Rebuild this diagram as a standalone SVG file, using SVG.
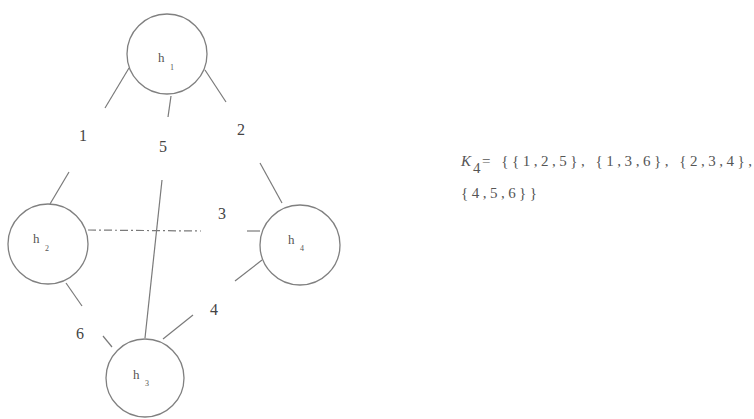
<svg xmlns="http://www.w3.org/2000/svg" width="754" height="419" viewBox="0 0 754 419">
<style>
.node{fill:none;stroke:#808080;stroke-width:1.3}
.edge{fill:none;stroke:#7a7a7a;stroke-width:1.2}
.dash{stroke-dasharray:8 3 2 3}
.lbl{font-family:"Liberation Serif","Times New Roman",serif;fill:#555}
.h{font-size:13px}
.sub{font-size:8px}
.num{font-size:16px;fill:#444}
.set{font-family:"Liberation Serif","Times New Roman",serif;font-size:15px;fill:#555}
</style>
<rect width="754" height="419" fill="#ffffff"/>
<g id="connectors">
<line class="edge" x1="129" y1="68" x2="105" y2="108"/>
<line class="edge" x1="69" y1="172" x2="50" y2="204"/>
<line class="edge" x1="171" y1="96" x2="168" y2="117"/>
<line class="edge" x1="162" y1="180" x2="145" y2="338"/>
<line class="edge" x1="205" y1="70" x2="226" y2="102"/>
<line class="edge" x1="260" y1="163" x2="282" y2="203"/>
<line class="edge dash" x1="88" y1="230" x2="201" y2="231"/>
<line class="edge" x1="247" y1="231" x2="260" y2="231"/>
<line class="edge" x1="262" y1="260" x2="235" y2="281"/>
<line class="edge" x1="193" y1="315" x2="163" y2="339"/>
<line class="edge" x1="66" y1="283" x2="82" y2="306"/>
<line class="edge" x1="103" y1="336" x2="112" y2="347"/>
<text class="lbl num" x="79" y="141">1</text>
<text class="lbl num" x="159" y="152">5</text>
<text class="lbl num" x="237" y="135">2</text>
<text class="lbl num" x="218" y="219">3</text>
<text class="lbl num" x="210" y="315">4</text>
<text class="lbl num" x="76" y="339">6</text>
</g>
<g id="h1">
<circle class="node" cx="167" cy="54" r="40"/>
<text class="lbl h" x="158" y="62">h</text>
<text class="lbl sub" x="170" y="70">1</text>
</g>
<g id="h2">
<circle class="node" cx="48" cy="244" r="40"/>
<text class="lbl h" x="33" y="243">h</text>
<text class="lbl sub" x="45" y="251">2</text>
</g>
<g id="h4">
<circle class="node" cx="300" cy="245" r="40"/>
<text class="lbl h" x="288" y="244">h</text>
<text class="lbl sub" x="300" y="251">4</text>
</g>
<g id="h3">
<circle class="node" cx="145" cy="378" r="39"/>
<text class="lbl h" x="133" y="379">h</text>
<text class="lbl sub" x="145" y="386">3</text>
</g>
<g id="set">
<text class="set" x="461" y="166" font-style="italic" font-size="16">K</text>
<text class="set" x="473" y="173" font-size="8">4</text>
<text class="set" x="482" y="166" textLength="270" lengthAdjust="spacing">= {{1,2,5}, {1,3,6}, {2,3,4},</text>
<text class="set" x="461" y="198" textLength="76" lengthAdjust="spacing">{4,5,6}}</text>
</g>
</svg>
